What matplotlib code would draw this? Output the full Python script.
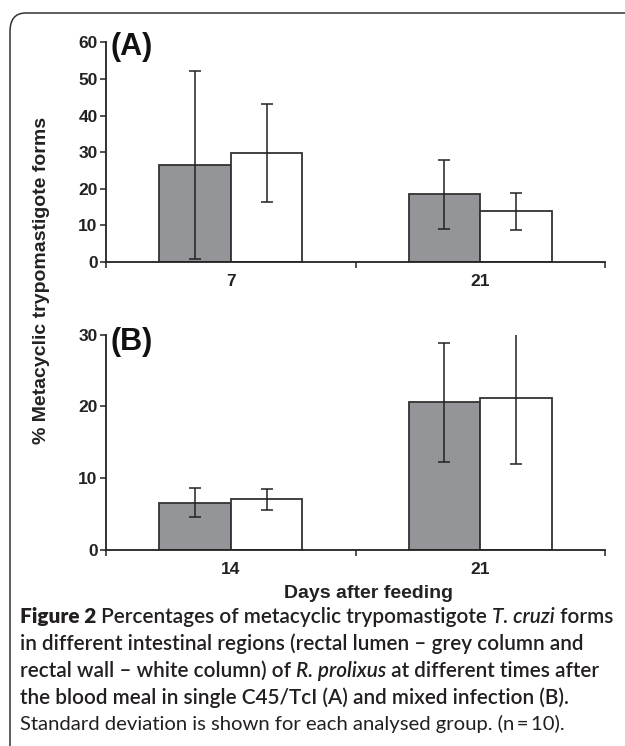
import matplotlib
matplotlib.use("Agg")
import matplotlib.pyplot as plt
from matplotlib.patches import FancyBboxPatch
import numpy as np

# ---------------- data ----------------
days_a = ["7", "21"]
lumen_a = [26.5, 18.5]
lumen_a_sd = [25.6, 9.4]
wall_a = [29.8, 13.8]
wall_a_sd = [13.4, 5.0]

days_b = ["14", "21"]
lumen_b = [6.6, 20.6]
lumen_b_sd = [2.0, 8.3]
wall_b = [7.05, 21.2]
wall_b_sd = [1.5, 9.2]

yticks_a = [0, 10, 20, 30, 40, 50, 60]
yticks_b = [0, 10, 20, 30]

ylabel = "% Metacyclic trypomastigote forms"
xlabel = "Days after feeding"

# ---------------- styles ----------------
W, H = 625, 746
DPI = 100
GREY = "#939598"
EDGE = "#333333"
AX = "#222222"
CHART_FONT = ["Liberation Sans", "DejaVu Sans"]
CAP_FONT = ["Lato", "Open Sans", "DejaVu Sans"]

plt.rcParams["font.family"] = CHART_FONT

fig = plt.figure(figsize=(W / DPI, H / DPI), dpi=DPI)


def fx(px):
    return px / W


def fy(py):
    return 1 - py / H


# rounded frame
frame = FancyBboxPatch((fx(10), fy(800)), fx(700), fy(13) - fy(800),
                       boxstyle="round,pad=0,rounding_size=0.025",
                       transform=fig.transFigure, fill=False,
                       edgecolor="#333333", linewidth=1.1, clip_on=False)
fig.patches.append(frame)

TICK_FS = 12.5


def panel(top_px, bottom_px, cats, g, gsd, w, wsd, ymax, yticks):
    ax = fig.add_axes([fx(106), fy(bottom_px), fx(605) - fx(106), fy(top_px) - fy(bottom_px)])
    x = np.arange(len(cats))
    bw = 0.287
    ax.bar(x - bw / 2, g, bw, color=GREY, edgecolor=EDGE, linewidth=1.3, zorder=2)
    ax.bar(x + bw / 2, w, bw, color="white", edgecolor=EDGE, linewidth=1.3, zorder=2)
    ax.errorbar(x - bw / 2, g, yerr=gsd, fmt="none", ecolor="#222222",
                elinewidth=1.1, capsize=4.5, capthick=1.1, zorder=3)
    ax.errorbar(x + bw / 2, w, yerr=wsd, fmt="none", ecolor="#222222",
                elinewidth=1.1, capsize=4.5, capthick=1.1, zorder=3)
    ax.set_xlim(-0.5, len(cats) - 0.5)
    ax.set_ylim(0, ymax)
    ax.set_yticks(yticks)
    ax.set_yticklabels([str(t) for t in yticks], fontsize=TICK_FS, fontweight="bold", color=AX)
    ax.set_xticks(x)
    ax.set_xticklabels(cats, fontsize=TICK_FS, fontweight="bold", color=AX)
    ax.set_xticks(np.arange(len(cats) + 1) - 0.5, minor=True)
    ax.tick_params(axis="x", which="major", length=0, pad=9)
    ax.tick_params(axis="x", which="minor", length=4, width=1.1, color=AX, direction="out")
    ax.tick_params(axis="y", which="major", length=4, width=1.1, color=AX, direction="out", pad=2)
    for s in ["top", "right"]:
        ax.spines[s].set_visible(False)
    for s in ["left", "bottom"]:
        ax.spines[s].set_linewidth(1.3)
        ax.spines[s].set_color(AX)
    ax.patch.set_alpha(0)
    return ax


axA = panel(42.3, 262, days_a, lumen_a, lumen_a_sd, wall_a, wall_a_sd, 60, yticks_a)
axB = panel(334.7, 550, days_b, lumen_b, lumen_b_sd, wall_b, wall_b_sd, 30, yticks_b)

for lab, yy in [("(A)", 47), ("(B)", 342)]:
    t = fig.text(fx(110), fy(yy), lab, fontsize=22, fontweight="bold",
                 ha="left", va="center", color="#111111")
    t.set_fontstretch("condensed")

fig.text(fx(42), fy(280), ylabel, rotation=90, fontsize=14, fontweight="bold",
         ha="center", va="center", color=AX)
fig.text(fx(368), fy(594), xlabel, fontsize=14, fontweight="bold",
         ha="center", va="center", color=AX)

# ---------------- caption ----------------
caption_lines = [
    [("Figure 2", "heavy", "normal"), (" Percentages of metacyclic trypomastigote ", "semibold", "normal"),
     ("T. cruzi", "semibold", "italic"), (" forms", "semibold", "normal")],
    [("in different intestinal regions (rectal lumen \u2013 grey column and", "semibold", "normal")],
    [("rectal wall \u2013 white column) of ", "semibold", "normal"), ("R. prolixus", "semibold", "italic"),
     (" at different times after", "semibold", "normal")],
    [("the blood meal in single C45/TcI (A) and mixed infection (B).", "semibold", "normal")],
    [("Standard deviation is shown for each analysed group. (n\u2009=\u200910).", "normal", "normal")],
]
line_y = [617, 644, 671, 698, 724]
target_w = [592, None, None, None, 547]

renderer = fig.canvas.get_renderer()


def draw_line(segs, yy, size, draw=True):
    xpos = 20.0
    made = []
    for txt, wt, st in segs:
        t = fig.text(fx(xpos), fy(yy), txt, fontsize=size, fontweight=wt, fontstyle=st,
                     family=CAP_FONT, ha="left", va="center", color="#231f20")
        bb = t.get_window_extent(renderer=renderer)
        xpos += bb.width
        made.append(t)
    if not draw:
        for t in made:
            t.remove()
    return xpos - 20.0


base = 10.0
w1 = draw_line(caption_lines[0], line_y[0], base, draw=False)
size_bold = base * target_w[0] / w1
w5 = draw_line(caption_lines[4], line_y[4], base, draw=False)
size_reg = base * target_w[4] / w5

for i, (segs, yy) in enumerate(zip(caption_lines, line_y)):
    draw_line(segs, yy, size_reg if i == 4 else size_bold)

fig.savefig("out.png", dpi=DPI)
